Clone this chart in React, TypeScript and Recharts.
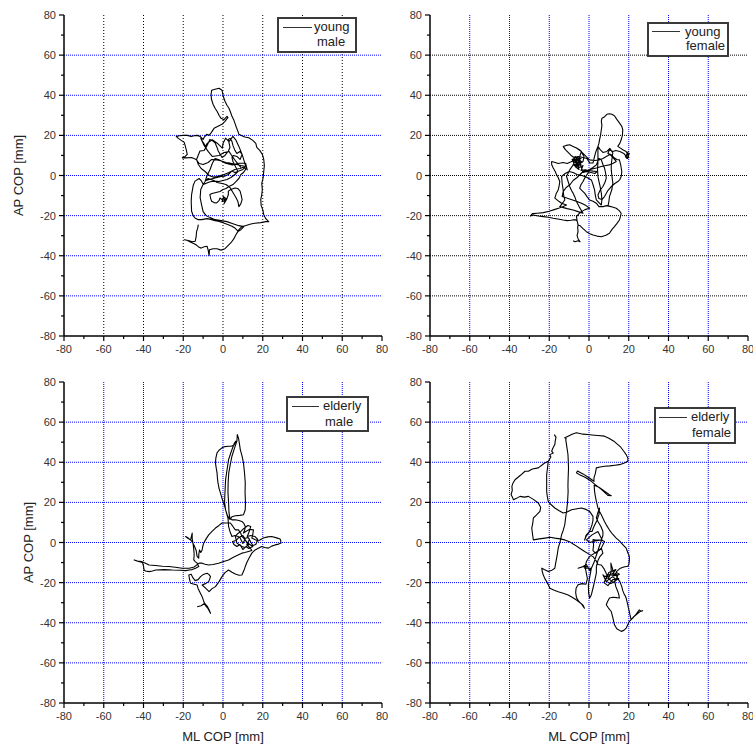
import { LineChart, Line, XAxis, YAxis, CartesianGrid } from 'recharts';

const AXIS_TICKS = [-80, -70, -60, -50, -40, -30, -20, -10, 0, 10, 20, 30, 40, 50, 60, 70, 80];
const GRID_LINES = [-60, -40, -20, 0, 20, 40, 60];

// COP traces, [ML, AP] in mm
const youngMale: [number, number][] = [
  [-12.4, -24.5], [-12.8, -26.5], [-13.3, -28], [-13.5, -30.5], [-14, -32.8], [-15.5, -33], [-17, -32.5],
  [-19.5, -32], [-18, -32.3], [-16.5, -33.2], [-14.5, -34], [-13.2, -34.8], [-12, -35.8], [-11, -36.2],
  [-9.5, -35.5], [-8, -35.3], [-7.5, -37], [-7, -40], [-6.8, -37], [-5, -36.5], [-3, -36.5], [-1, -37.2],
  [1, -36.5], [2.5, -35], [4, -33.5], [5.5, -31.5], [6.5, -29.5], [7.5, -28], [6.5, -29.5], [8, -27],
  [9.5, -25.5], [12, -24.8], [14, -24.2], [16, -23.8], [19, -23.5], [21.5, -23], [23, -23], [21.5, -21.5],
  [20.5, -19.5], [20, -17], [19.2, -15], [19, -12], [19.5, -9.5], [19.8, -7], [19.5, -4], [20.2, -1],
  [20.5, 2], [20.8, 5], [20.5, 8], [19.8, 10.5], [18.5, 12.5], [17, 14], [16.5, 16], [15, 17.5], [13, 18.8],
  [11, 19.2], [9.5, 19.8], [8, 20.5], [7.5, 22], [6.8, 23.8], [6.2, 25.5], [5.5, 27.5], [4.5, 29.5],
  [3.8, 31.5], [3, 33.5], [2, 35], [1, 37], [0.3, 39], [-0.5, 42.5], [-2, 43.5], [-4, 43], [-5.7, 42.5],
  [-6, 40.5], [-5.8, 38], [-5, 35.5], [-4, 33.5], [-3, 32], [-2, 30], [-1, 28.5], [0.5, 27.8], [2, 29.5],
  [2.5, 29], [1, 27], [-0.5, 25.5], [-2.5, 24.5], [-4.5, 23.5], [-5.8, 21.5], [-7, 20], [-8.2, 20.5],
  [-9.5, 19], [-10, 18], [-11.5, 19.5], [-13, 20], [-14.5, 19.8], [-16, 19.5], [-18, 20], [-20, 20],
  [-22, 19.8], [-23.5, 19.5], [-22.5, 18.5], [-21, 17.5], [-19.5, 16.5], [-18.8, 14], [-18.3, 12],
  [-18, 10.5], [-19, 9.5], [-20.5, 8.8], [-18.5, 8.8], [-15.8, 9], [-13.5, 8], [-12, 6], [-10, 5.5],
  [-7.5, 6.5], [-5.7, 8], [-3, 7.8], [-0.7, 7.2], [1.5, 6.5], [2.7, 6.3], [5, 5.8], [6.9, 5.5], [9, 5],
  [11.5, 4.5], [10, 3], [8, 2.2], [6, 1.5], [4.4, 2.2], [2.7, 0.5], [1, -0.3], [-1, -0.5], [-3, -1],
  [-5, -1.5], [-7, -2], [-8.5, -2.5], [-7.5, -1.5], [-6, -2], [-4, -2.8], [-2, -3], [0, -2.5], [2, -2],
  [4, -1], [6, 0.5], [7.5, 2], [6.5, 4], [5, 7], [4.5, 9], [5.2, 10], [7, 9.5], [8.6, 8], [9.6, 10.5],
  [8.5, 12], [7, 11], [6, 12.5], [5, 15], [4.5, 17], [3.5, 18.5], [2.7, 18], [3.2, 15.5], [3.5, 14],
  [2.7, 12.2], [1, 10], [-0.5, 9], [-2.4, 12.2], [-3, 14], [-4, 16.3], [-5.5, 17.5], [-6.6, 18], [-7.5, 16],
  [-8.5, 14], [-9.5, 12.5], [-11.6, 12.2], [-12.5, 10], [-13.3, 8], [-12.4, 5.5], [-11, 3.5], [-9, 2],
  [-7, 0], [-5, -0.8], [-3, -0.5], [0, 0.3], [3, 1.5], [6, 3], [8.6, 3.5], [10.5, 4.2], [11.5, 3.2],
  [10.3, 1.5], [9, 0.5], [8, -1.5], [6.5, -3], [5, -4.5], [3, -5.5], [1.5, -6.5], [0, -7], [-1.5, -8],
  [-3.5, -8.5], [-5.5, -9], [-6.6, -9.5], [-6.2, -11.5], [-5.7, -12.8], [-4.5, -13.5], [-3.2, -13.7],
  [-2, -12.5], [-1.5, -11.2], [-0.5, -12], [0.5, -11], [-0.5, -13], [1, -12.5], [0, -10.5], [1.5, -11.5],
  [0.5, -14], [1.8, -12], [2.7, -9.5], [2.7, -7.8], [4, -7], [6, -6.2], [7.5, -6.5], [8.6, -7.8], [9.2, -10],
  [9.6, -12], [9, -14], [8, -15.5], [7.5, -13], [6.5, -11], [5, -8.5], [3.5, -6], [1.5, -4.5], [-0.5, -4],
  [-3, -3.5], [-4, -2.8], [-6, -3], [-7.5, -3.5], [-9.9, -4.5], [-11, -2.5], [-12, -1.5], [-14.1, -2.8],
  [-15, -5], [-15.8, -9.5], [-16, -13], [-15.8, -17.8], [-15, -20], [-14.1, -21.2], [-12.5, -22],
  [-10.8, -22], [-8, -21.5], [-5.7, -22], [-4, -22.5], [-2.4, -22.8], [0, -23.5], [2.7, -24.5], [4.5, -25.3],
  [6, -26.2], [7.7, -27.8], [9, -27], [10.5, -25.5], [8, -25], [5, -24], [2, -23], [-1, -22.5], [-4, -22],
  [-6.5, -21], [-8.5, -20], [-10, -18], [-10.8, -14.5], [-11.5, -11], [-11.2, -7], [-10, -4.5], [-9, -3],
  [-8, 0], [-6.5, 3], [-5.4, 6], [-4, 8.5], [-2, 7.8], [1.3, 6.1], [4.7, 5.3], [8, 6.1], [11.4, 6.1],
  [12.2, 2.8], [11, 6], [9.7, 10.3], [8, 14.5], [6.4, 17.8], [5, 19.5], [3, 16.9], [1.3, 18.6], [0, 16],
  [-0.3, 13.6], [-2.9, 16.1], [-5.4, 17.8], [-8, 16], [-8.7, 14.5], [-10, 16.5], [-11.2, 18.6], [-9.5, 15],
  [-7.5, 12], [-5.4, 9.5], [-2, 10], [0.5, 11.5], [3, 12], [4.7, 9.5], [6.5, 7], [9, 4],
];

const youngFemale: [number, number][] = [
  [-8, -32.5], [-7, -33], [-5.5, -32.5], [-4.5, -33], [-5.5, -31.5], [-6, -30], [-5.5, -28], [-5.7, -26],
  [-5.5, -24.5], [-6, -22.5], [-7, -22], [-9, -22.3], [-11, -22.5], [-13, -22.2], [-15, -21.8], [-18, -21.3],
  [-20.5, -20.8], [-23, -20.5], [-25.5, -20.2], [-28, -19.7], [-29.5, -20.2], [-28.5, -19], [-26, -18.8],
  [-23, -18.5], [-20, -17.8], [-17.5, -17], [-15, -16.2], [-13, -15.5], [-11.3, -14.7], [-13.8, -13.8],
  [-15, -13], [-17.2, -11.3], [-16.5, -9], [-15.5, -7.2], [-15, -5], [-14.7, -3], [-15.5, -1], [-16.3, 0.3],
  [-17, 2], [-18, 3.7], [-18.8, 5.5], [-18.8, 7], [-17, 6.5], [-15.5, 6], [-13, 6.5], [-11, 6], [-9, 6.8],
  [-7.5, 7.5], [-6.3, 7.8], [-5, 8.5], [-7, 9.5], [-8, 7], [-5.5, 6], [-7.5, 5], [-4.5, 7], [-6, 9],
  [-8, 5.5], [-4, 5.5], [-6.5, 4.5], [-5, 8], [-3.5, 6.5], [-6, 6.5], [-7.5, 8.5], [-5, 4], [-3, 5],
  [-4, 2.5], [-2, 2.8], [0, 2.5], [2, 2.2], [4, 2], [3, 1], [1, 1.5], [-1, 2], [-3, 1.5], [-4, 4.5],
  [-5, 7.5], [-4.5, 10], [-3.8, 12], [-5, 13], [-6.3, 13.7], [-8, 14.5], [-9.7, 15.3], [-11.5, 15],
  [-13, 14.5], [-12, 13], [-10.5, 11.5], [-9, 10], [-7.5, 9], [-5.5, 9.5], [-3, 9], [-1, 8.5], [0.3, 6.2],
  [2, 6.2], [2.8, 9.5], [3.5, 12], [4.5, 14.5], [5, 16], [5.3, 17.8], [5.8, 20], [6.2, 22.8], [6.5, 25],
  [6.2, 27], [6.5, 28.5], [7.5, 29], [9, 30.5], [10.3, 30.8], [11.5, 30.5], [12.8, 29.8], [14, 28],
  [15.3, 26.2], [16.5, 24.5], [17, 22.8], [16.8, 20], [16.2, 17.8], [15.5, 16], [14.5, 14.5], [16, 13.5],
  [17, 12.8], [18.7, 12], [19.5, 10.3], [20, 9], [19, 8.5], [20.3, 11], [18.8, 10], [19.8, 12], [18.3, 9.3],
  [19.5, 8.5], [17.5, 11], [15.5, 12], [13.5, 12.5], [12, 12], [10.3, 12.8], [9.5, 11], [11, 10.5],
  [12.8, 8.7], [14, 8], [15.3, 7.8], [16, 5], [16.5, 2], [16.2, -0.5], [15.5, -2], [14.5, -3], [13, -4],
  [11.2, -5.5], [9.5, -7.5], [7.8, -10.5], [6.5, -12], [5, -11.5], [4.5, -9.7], [5.5, -7.5], [7, -5.5],
  [8, -3.5], [8.7, -1.3], [8.3, 1.5], [7.8, 3.7], [7, 5.5], [6.2, 7.8], [5, 8.5], [3.7, 5.3], [2, 4],
  [0.3, 3], [-0.5, 1.2], [-2, -1], [-3, -3], [-4, -4.5], [-4.7, -6.3], [-3.5, -7.5], [-2.2, -8.8], [-1, -10.5],
  [0.3, -12.2], [2, -12.8], [3.7, -13.8], [5, -15.5], [7, -15.5], [9, -15], [11, -15.5], [13.7, -16.3],
  [15.2, -17.5], [16.2, -18.8], [15.8, -20.5], [15.3, -22.2], [14, -24], [12.8, -25.5], [11.5, -27],
  [10.3, -28.8], [8.5, -29.8], [6.2, -30.5], [4, -30.2], [2, -29.7], [0.5, -29], [-1.3, -28], [-3, -26.5],
  [-4.5, -25], [-5.5, -24.7], [-6, -22.5], [-6.3, -20.5], [-5, -19], [-3.8, -18], [-2, -17], [0.3, -16.3],
  [-1.5, -15], [-3.5, -14], [-6, -13], [-9, -12], [-12, -11], [-13.5, -10.5], [-13, -8], [-11.5, -6],
  [-9.5, -4.5], [-8, -2.5], [-6, -1], [-4.5, 0.5], [-3, 2],
  [-1, 2.5], [1.5, 3.2], [3.7, 3.7], [6.2, 4.5], [8.5, 5], [10.3, 5.3], [12, 6], [13.7, 7], [12, 9],
  [10.5, 10.5], [8.7, 9.5], [7, 8.5], [5.3, 7.8], [3, 7.5], [0.3, 7.8], [-1.5, 9.5], [-3, 11], [-4.5, 12.5],
  [-6.3, 13.7], [-4, 12], [-2.5, 9.5], [-3, 7], [-4.5, 6], [-6, 5.5], [-5, 3], [-7, 4.5], [-6, 7.5], [-4, 8.5],
  [-6.5, 9], [-8.5, 8], [-7.5, 6], [-9.7, 2.8], [-11.3, -0.5], [-10.5, -3], [-9.7, -5.5], [-8.8, -7.5],
  [-8, -8.8], [-7, -11], [-6.3, -13], [-5, -15.5], [-3, -18.8], [-5.5, -18], [-8, -17.2], [-11, -16.5],
  [-14.7, -15.5], [-13.5, -14], [-12.2, -12.2], [-12.8, -9.5], [-13, -7.2], [-13.5, -4], [-13.8, -0.5],
  [-12, 1], [-10, 2], [-8, 1.5], [-6, 0.5], [-3.5, 0], [-1, -1], [1.2, -2.2], [2, -4.5], [2.8, -7.2],
  [3.2, -10], [3.7, -12.2], [5, -13.5], [6.2, -14.7], [6.5, -12], [6.2, -8.8], [5.5, -5], [4.8, -2],
  [4.5, -0.5], [4.3, 3], [4.5, 7], [4.5, 10], [4.5, 14.5], [5.5, 13], [7, 11.5], [9, 12], [10.5, 13.5],
  [12, 11.2], [11.5, 8], [11.2, 5], [11.2, 2.8], [11.5, 0], [12, -3.8], [11.5, -7], [10.3, -10.5], [10, -13],
  [9.5, -15.5],
];

const elderlyMale: [number, number][] = [
  [-13, -32], [-11, -31.5], [-9.2, -30.3], [-7.8, -32], [-7, -33.5], [-6.3, -35.3], [-7.5, -33], [-8.8, -31.5],
  [-9.8, -29], [-10.5, -27], [-11.5, -25], [-12.5, -23], [-13, -21.2], [-14.5, -20.8], [-16.3, -20.3],
  [-16.8, -18.5], [-17.2, -16.2], [-16, -15.8], [-15.2, -17.5], [-14, -19], [-12.5, -18.5], [-11.3, -17],
  [-10, -16], [-8, -15.3], [-7, -16], [-6.3, -17], [-6.8, -18.5], [-7.2, -19.5], [-8.8, -20.5], [-10.5, -21.2],
  [-9, -22.5], [-7, -24.5], [-5.5, -23], [-3.8, -22], [-2, -19.5], [-0.5, -17], [1, -15], [2.8, -13.7],
  [4.5, -14.8], [6.2, -15.7], [8, -16.3], [9.5, -16.2], [10.5, -14], [11.2, -12], [12, -10], [13, -8],
  [14.5, -5.3], [16.2, -3.7], [17.5, -3], [19.5, -2], [21, -2.5], [22.8, -2.8], [24.5, -1.8], [26.2, -1.2],
  [28, -0.8], [29.2, -0.3], [29, 1], [28.7, 1.7], [27, 2.3], [24.5, 3], [22.5, 2.8], [20.3, 2.2], [19, 1.5],
  [17.8, 0.8], [16, 1.5], [14.5, 2.2], [15, 4], [15.3, 6.3], [14, 6.5], [12.8, 6.3], [11.5, 5.5], [10.3, 4.7],
  [11, 6.5], [11.2, 8], [10.5, 9.5], [9.5, 10.5], [8, 11], [6.2, 11.3], [4.5, 11.3], [3.5, 12],
  [3, 15], [2.8, 20], [2.5, 25], [2.6, 30], [2.9, 34.7], [3.6, 38.5], [4.5, 43], [5.8, 47], [7, 50.5],
  [7.2, 53.8], [7.8, 52], [8.3, 49], [8.7, 46.3], [9.6, 43], [10.3, 39.7], [10.8, 35], [11.2, 29.7],
  [11.1, 25], [11.3, 20], [11.2, 16.3], [10.3, 13.8], [8.5, 13.5], [6.2, 13.3], [4.5, 12.8], [3.5, 11.5],
  [2.2, 13.5], [1.3, 16.3], [0.8, 20], [0.9, 23], [1.1, 27], [1.3, 31.3], [2, 36], [2.8, 41.3], [4.2, 45.5],
  [5.8, 49.7], [6.5, 50.5], [5.5, 48.5], [4, 48], [2.8, 48], [1, 47.8], [-0.5, 47.2], [-2, 46], [-3, 44.7],
  [-3.6, 42], [-3.8, 39.7], [-3.4, 37], [-3, 34.7], [-2.8, 32], [-2.5, 29.7], [-2, 27], [-1.3, 24.7],
  [-0.5, 22], [0.3, 19.7], [1, 17.5], [1.5, 15.5], [2.5, 12.2], [2.7, 10], [2.8, 8], [3.5, 5.5], [4.5, 3],
  [6, 3.5], [7.5, 3], [8.5, 2.5], [9.5, 0.5], [10, -0.5], [11, 1.5], [12, 0], [13.5, -1], [15, -2], [13, -3],
  [11.5, -2], [10, -3.5], [8.5, -1], [7, -2], [5.5, -1], [4.8, 0.5], [6.5, 1], [8, 2.5], [10, 3.5], [11, 2],
  [12.5, 2.5], [13.3, 1.5], [12, -1], [13.5, -2.5], [14.5, -4], [12.8, -4.5], [11, -5], [9.5, -5.3], [7, -6.5],
  [5, -7.5], [2.8, -8.7], [0.3, -9.5], [-2.2, -10.3], [-5, -11], [-7.2, -11.2], [-9, -10.8], [-10.5, -10.3],
  [-12, -10.3], [-13, -11], [-14.5, -12.2], [-17, -12.8], [-20.5, -12.8], [-24, -12.3], [-27.2, -12],
  [-30.5, -11.8], [-34, -11.5], [-37.2, -11.2], [-39, -10.3], [-41, -9.5], [-43, -9.2], [-44.7, -8.7],
  [-42.5, -9.5], [-40.5, -10], [-40, -11.8], [-39.7, -13.7], [-39, -14.2], [-37.2, -14.5], [-35.5, -14.2],
  [-33.8, -13.7], [-29.5, -13.5], [-25.5, -13.7], [-21.5, -13.8], [-18.8, -14], [-17, -13.7], [-15.5, -13.5],
  [-13.8, -12.8], [-12.2, -12], [-13, -10.3], [-14, -9.5], [-14.7, -8.7], [-14.5, -6], [-14.7, -3.7],
  [-15, -1], [-15.5, 2], [-15.5, 4.7], [-16, 2.5], [-16.3, 1.3], [-17.5, 2], [-18.8, 3], [-17.5, 2.2],
  [-16, 1], [-14.5, -1.5], [-13.5, -4], [-13, -7], [-12.2, -7.8], [-12.2, -6], [-11.8, -3.7], [-11.2, -5],
  [-10.5, -3.7], [-10.2, -2], [-9.7, -0.3], [-8.5, 1.8], [-7.2, 3.8], [-5.5, 5.5], [-3.8, 7.2], [-2, 8.5],
  [-0.5, 9.7], [2, 9.7], [3.7, 9.7],
  [5, 8], [6.2, 6.3], [7.8, 6.3], [9, 4.5], [9.5, 3], [11.2, 1.3], [12.8, -1.2], [11, -2.5], [9.5, -2],
  [8, -1], [7, -0.3], [6.2, 3], [7.5, 4.5], [9, 5.5], [10.5, 7], [12.5, 8.5], [14, 8], [13, 5], [12.2, 3],
  [14, 3.5], [16, 3], [17.5, 1.5], [16.5, -1], [15, -1.5], [13.8, 0.5], [12.8, 2.5],
];

const elderlyFemale: [number, number][] = [
  [-17.5, 53.8], [-16.6, 52.5], [-17, 50.5], [-17.2, 48.8], [-18.2, 47], [-18.8, 45.5], [-18, 44.6],
  [-19.7, 43.8], [-19.2, 42.6], [-20.5, 40.5], [-22.5, 39.5], [-25.5, 37.2], [-28.5, 36.6], [-30.5, 35.5],
  [-32.2, 35.5], [-34.5, 33.5], [-37.2, 31.3], [-38.3, 29.5], [-38.8, 28], [-38.6, 26], [-39.2, 23.8],
  [-38.5, 22.5], [-38, 21.3], [-36.5, 22], [-34.7, 23], [-32.5, 22.6], [-30.5, 23], [-28, 21.5],
  [-25.5, 19.7], [-24.3, 17.5], [-24.7, 15.5], [-26.5, 13.6], [-28, 12.2], [-28.3, 9.5], [-28.8, 7.2],
  [-28.4, 4], [-28, 1.3], [-25, 1.8], [-22.2, 2.2], [-19.5, 2.6], [-17.2, 2.2], [-14.5, 1.8], [-12.2, 1.3],
  [-9.5, 0.2], [-7.2, -1.2], [-4.5, -3], [-2.2, -4.5], [0, -5.8], [2, -7],
  [3.5, -9], [4.5, -11], [6.2, -11.2], [7.5, -13], [8.7, -15.5], [10, -17.5], [11.2, -14.5], [11, -10.3],
  [11.8, -13], [12.5, -16], [14, -15], [15.3, -15.8], [13, -16.5], [10.5, -16], [8, -17], [7, -16.1],
  [8.7, -19.4], [10.5, -18], [12, -17], [13.5, -18.5], [12.2, -20], [10.5, -18.5], [9, -17.5],
  [7.5, -20], [9.5, -21.5], [12, -18.5], [15, -18], [11, -20.5], [8, -19], [10, -15], [13.5, -13.5],
  [12, -15.5], [11.5, -15.5],
  [14.5, -16.5], [13, -19.5], [13.5, -22], [14.5, -24.4], [15, -26], [15.3, -27.7], [14, -27.5], [12, -27.3],
  [10.3, -27.7], [9.3, -29.5], [8.7, -31], [10, -33], [11.2, -34.4], [12, -37.5], [12.8, -41], [14, -43],
  [16.2, -44.3], [17.5, -43.8], [18.7, -42.7], [19.5, -41], [20.3, -39.3], [22, -37.7], [23.5, -36],
  [25.3, -33.6], [26.2, -34.2], [27, -34], [25.5, -34.5], [24, -35.8], [22.5, -37], [21.2, -38.5],
  [20.7, -36.5], [20.3, -34.4], [19.8, -32.5], [19.5, -31], [19, -29], [18.7, -27.7], [18.2, -26.5],
  [17.8, -26], [17, -24], [16.5, -22], [15.5, -19.5], [14.5, -18], [13.5, -16], [13.8, -14.5], [15.5, -13],
  [17.5, -12.2], [19.5, -11.8], [20, -11.1], [20.3, -9], [20.3, -7], [19.5, -5], [18.7, -2.8], [17, -1],
  [15.3, 0.8], [13.7, 2.2], [12, 4], [10.3, 6.2], [8.7, 8.8], [7.8, 10.5], [6.2, 13.8], [5.3, 15.5],
  [4.5, 17.2], [3.7, 20.5], [3.2, 23], [2.8, 25.5], [2.6, 28.5],
  [5, 27.5], [8, 25.5], [10.3, 23.8], [11.2, 23.3], [9.5, 23.5], [6.2, 26.5], [3, 29], [1.2, 30.5], [-2, 32.5],
  [-4.7, 33.8], [-6.3, 34.7], [-5.8, 35.6], [-3, 34.2], [0, 32.3], [2.5, 30.5],
  [2.5, 32.2], [3.2, 34.5], [3.7, 37.2], [5.5, 37.6], [7.8, 38], [10.5, 38.2], [13, 38.5], [15.3, 38.8],
  [17.5, 39.5], [19.5, 40.5], [19.6, 42], [18.7, 43.8], [17.5, 45.5], [16, 47.5], [14.5, 48.8], [12.5, 50.5],
  [10, 52], [7.8, 53], [4.5, 53.3], [1.5, 53.6], [-0.5, 53.8], [-3, 54], [-6.3, 54.7], [-7.5, 54.3],
  [-8.8, 53.8], [-10.5, 53], [-12.2, 52.2], [-11.5, 51.8], [-11.7, 51.3], [-11.2, 48], [-10.6, 44],
  [-10.5, 42.2], [-10.3, 37], [-10.5, 32], [-10.6, 28], [-10.5, 25.5], [-10.8, 20], [-11.3, 15.5],
  [-11.8, 12], [-12.2, 8.8], [-13, 6], [-13.8, 3.8], [-14.5, 0.5], [-15.5, -2.8], [-15.8, -5], [-16.3, -7.8],
  [-16.8, -10.5], [-17.2, -12.8], [-19, -14], [-20.5, -14.5], [-22.5, -13.5], [-23.8, -12.8],
  [-23.5, -14.5], [-23, -16.2], [-22.2, -18], [-21.3, -19.5], [-20.5, -21], [-19.7, -22.8], [-17.5, -23.8],
  [-15.5, -24.5], [-13, -25.3], [-10.5, -26.2], [-8.5, -27.3], [-6.3, -28.7], [-4.5, -30], [-3, -31.2],
  [-2.3, -32.8], [-3.5, -31], [-5, -29.5], [-6.3, -27.5], [-6.7, -25], [-6.5, -22.8], [-5.5, -21.1],
  [-3.5, -20.5], [-1.5, -20.8], [-0.8, -18], [-1.3, -15.5], [-1.8, -13], [-1.3, -12], [-3.5, -12.2],
  [-5.5, -12.8], [-3, -12], [-1.3, -11], [0.3, -14], [1.2, -12.8], [0.3, -17.5], [-0.3, -21.2], [-0.2, -25],
  [0.3, -27.8], [1.2, -26], [2, -22.8], [3, -18.5], [3.7, -15.3], [3.7, -12], [4.5, -9], [5.5, -7], [7, -5.3],
  [6.2, -2.8], [5, -4], [3.3, -5.3], [2, -4], [2.3, -1.2], [2, 1.5],
  [2.8, 1.3], [4.5, 1.2], [6.2, 1.3], [7.8, 0.5], [6.2, -2.8], [4.5, -4.2], [2.8, -5.3], [0.3, -7],
  [-1.3, -9.5], [-2.2, -12.8], [0, -12.8], [1.2, -12.8], [2.5, -10], [3.5, -7], [4.5, -4], [5.5, -1],
  [6.5, 1.5], [4.5, 5.5], [1.5, 3.8], [-1.3, 1.3], [0.5, 0], [3, 0.8], [6.2, 1.3],
  [7, 3.5], [7, 5.5], [6, 8], [4.5, 10.5], [3.7, 12.2], [4.5, 15],
  [5.3, 17.2], [5, 14], [4, 11], [2.5, 8], [1.5, 5.5], [0.3, 5.5], [-1.5, 3], [-2.2, 1.2], [-1.5, 3.5],
  [0.3, 5.5], [1.5, 8.8], [2, 11], [2, 13], [0.3, 15.5], [-1.5, 16.5], [-3.8, 17.2], [-6, 16.8], [-8.8, 16.3],
  [-11, 15.2], [-13, 14.7], [-15, 15.8], [-17.2, 17.2], [-19, 18.8], [-20.5, 20.5], [-21, 23], [-21.3, 25.5],
  [-21.3, 29.5], [-21.3, 33.8], [-20.9, 37], [-20.5, 40.5],
];

const FONT = "'Liberation Sans', Arial, sans-serif";
const BLUE = '#0000ff';

interface GridStyle {
  stroke: string;
  dash: string;
}

function YTick(props: any) {
  const { x, y, payload } = props;
  const major = payload.value % 20 === 0;
  return (
    <g>
      <line x1={x} y1={y} x2={x - (major ? 5 : 3)} y2={y} stroke="#000" strokeWidth={1.2} />
      {major && (
        <text x={x - 8} y={y + 4} textAnchor="end" fontSize={11} fill="#333" fontFamily={FONT}>
          {payload.value}
        </text>
      )}
    </g>
  );
}

function XTick(props: any) {
  const { x, y, payload } = props;
  const major = payload.value % 20 === 0;
  return (
    <g>
      <line x1={x} y1={y} x2={x} y2={y + (major ? 5 : 3)} stroke="#000" strokeWidth={1.2} />
      {major && (
        <text x={x} y={y + 17} textAnchor="middle" fontSize={11} fill="#333" fontFamily={FONT}>
          {payload.value}
        </text>
      )}
    </g>
  );
}

interface PanelProps {
  path: [number, number][];
  left: number;
  top: number;
  width: number;
  height: number;
  marginTop: number;
  marginRight: number;
  yAxisWidth: number;
  xAxisHeight: number;
  yTitleX?: number;
  xTitle?: boolean;
  vGrid: GridStyle;
  hGrid: GridStyle;
}

function Panel({ path, left, top, width, height, marginTop, marginRight, yAxisWidth, xAxisHeight, yTitleX, xTitle, vGrid, hGrid }: PanelProps) {
  const data = path.map(([x, y]) => ({ x, y }));
  const yTitle = (p: any) => {
    const vb = p.viewBox;
    const cy = vb.y + vb.height / 2;
    return (
      <text x={yTitleX} y={cy} transform={`rotate(-90 ${yTitleX} ${cy})`} textAnchor="middle" dominantBaseline="central" fontSize={13} fill="#222" fontFamily={FONT}>
        AP COP [mm]
      </text>
    );
  };
  const xTitleLabel = (p: any) => {
    const vb = p.viewBox;
    return (
      <text x={vb.x + vb.width / 2} y={vb.y + 33} textAnchor="middle" dominantBaseline="central" fontSize={13} fill="#222" fontFamily={FONT}>
        ML COP [mm]
      </text>
    );
  };
  return (
    <div style={{ position: 'absolute', left, top }}>
      <LineChart width={width} height={height} data={data} margin={{ top: marginTop, right: marginRight, bottom: 0, left: 0 }}>
        <CartesianGrid horizontal={false} verticalValues={GRID_LINES} stroke={vGrid.stroke} strokeDasharray={vGrid.dash} />
        <CartesianGrid vertical={false} horizontalValues={GRID_LINES} stroke={hGrid.stroke} strokeDasharray={hGrid.dash} />
        <XAxis
          type="number"
          dataKey="x"
          domain={[-80, 80]}
          ticks={AXIS_TICKS}
          interval={0}
          tickSize={0}
          tickMargin={0}
          tickLine={false}
          tick={<XTick />}
          height={xAxisHeight}
          axisLine={{ stroke: '#000', strokeWidth: 1.5 }}
          allowDataOverflow
          label={xTitle ? { content: xTitleLabel } : undefined}
        />
        <YAxis
          type="number"
          domain={[-80, 80]}
          ticks={AXIS_TICKS}
          interval={0}
          tickSize={0}
          tickMargin={0}
          tickLine={false}
          tick={<YTick />}
          width={yAxisWidth}
          axisLine={{ stroke: '#000', strokeWidth: 1.5 }}
          allowDataOverflow
          label={yTitleX !== undefined ? { content: yTitle } : undefined}
        />
        <Line dataKey="y" stroke="#000" strokeWidth={1.1} strokeLinejoin="round" dot={false} activeDot={false} isAnimationActive={false} />
      </LineChart>
    </div>
  );
}

interface LegendProps {
  left: number;
  top: number;
  width: number;
  height: number;
  lineFrom: number;
  lineTo: number;
  lineY: number;
  first: string;
  second: string;
  firstX: number;
  secondX: number;
  firstY: number;
  secondY: number;
}

function LegendBox(p: LegendProps) {
  return (
    <div
      style={{
        position: 'absolute',
        left: p.left,
        top: p.top,
        width: p.width,
        height: p.height,
        boxSizing: 'border-box',
        border: '2px solid #3a3a3a',
        background: '#fff',
        fontFamily: FONT,
        fontSize: 13,
        color: '#222',
      }}
    >
      <div style={{ position: 'absolute', left: p.lineFrom - 2, top: p.lineY - 2, width: p.lineTo - p.lineFrom, borderTop: '1px solid #333' }} />
      <span style={{ position: 'absolute', left: p.firstX - 2, top: p.firstY - 2 - 8, lineHeight: '16px', whiteSpace: 'nowrap' }}>{p.first}</span>
      <span style={{ position: 'absolute', left: p.secondX - 2, top: p.secondY - 2 - 8, lineHeight: '16px', whiteSpace: 'nowrap' }}>{p.second}</span>
    </div>
  );
}

export default function App() {
  const black1: GridStyle = { stroke: '#000', dash: '1 2' };
  const black2: GridStyle = { stroke: '#000', dash: '1 1' };
  const blue: GridStyle = { stroke: BLUE, dash: '1 1' };
  return (
    <div style={{ position: 'absolute', left: 0, top: 0, width: 753, height: 745, background: '#fff', overflow: 'hidden' }}>
      <Panel path={youngMale} left={0} top={0} width={395} height={365} marginTop={15} marginRight={13} yAxisWidth={64} xAxisHeight={29} yTitleX={18} vGrid={black1} hGrid={blue} />
      <Panel path={youngFemale} left={376} top={0} width={377} height={365} marginTop={15} marginRight={5} yAxisWidth={54} xAxisHeight={29} vGrid={blue} hGrid={black2} />
      <Panel path={elderlyMale} left={0} top={365} width={395} height={380} marginTop={17} marginRight={13} yAxisWidth={64} xAxisHeight={42} yTitleX={28} xTitle vGrid={blue} hGrid={blue} />
      <Panel path={elderlyFemale} left={376} top={365} width={377} height={380} marginTop={17} marginRight={5} yAxisWidth={54} xAxisHeight={42} xTitle vGrid={blue} hGrid={blue} />

      <LegendBox left={277} top={17} width={80} height={36} lineFrom={6} lineTo={35} lineY={10} first="young" second="male" firstX={37} secondX={40} firstY={10} secondY={25} />
      <LegendBox left={647} top={22} width={82} height={35} lineFrom={5} lineTo={33} lineY={9} first="young" second="female" firstX={38} secondX={39} firstY={10} secondY={24} />
      <LegendBox left={286} top={396} width={83} height={36} lineFrom={6} lineTo={33} lineY={10} first="elderly" second="male" firstX={37} secondX={39} firstY={10} secondY={26} />
      <LegendBox left={654} top={407} width={82} height={37} lineFrom={5} lineTo={33} lineY={10} first="elderly" second="female" firstX={37} secondX={38} firstY={10} secondY={26} />
    </div>
  );
}
